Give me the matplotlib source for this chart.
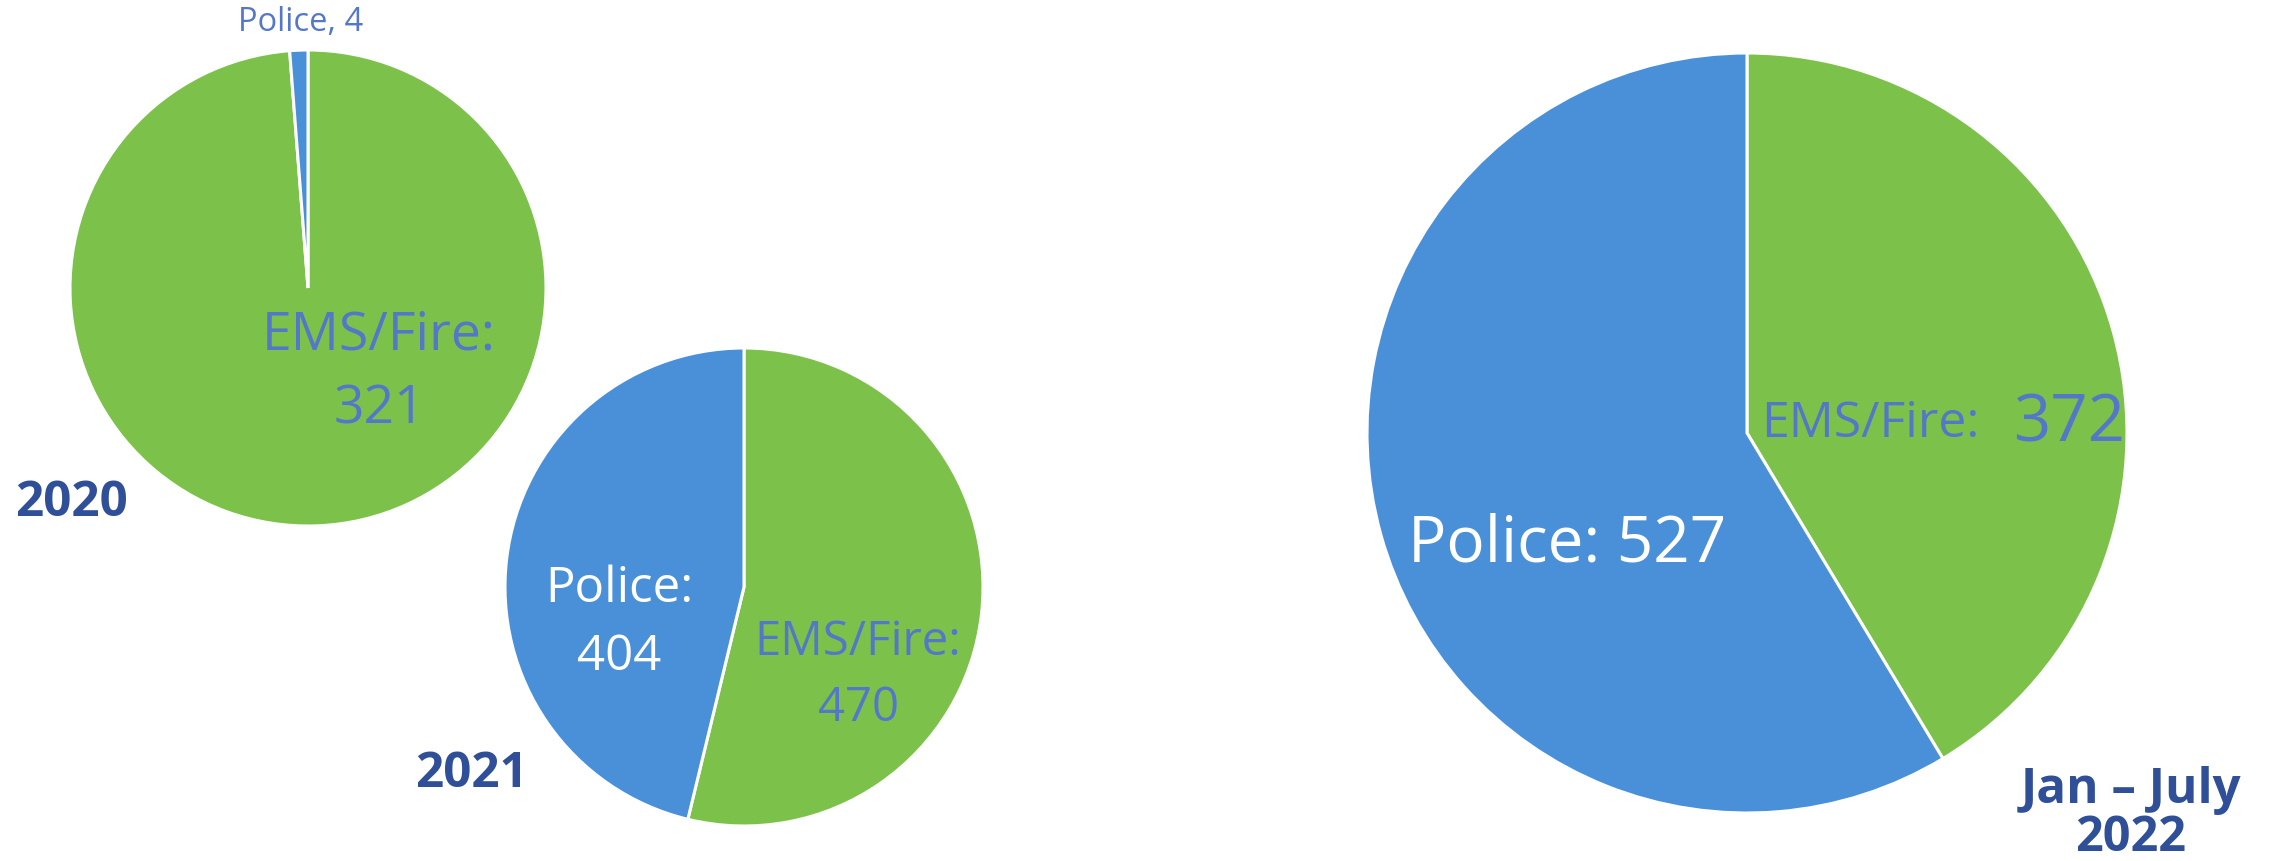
import matplotlib.pyplot as plt

# counts per service for each period
services = ["EMS/Fire", "Police"]
counts_2020 = [321, 4]
counts_2021 = [470, 404]
counts_2022 = [372, 527]
periods = ["2020", "2021", "Jan \u2013 July", "2022"]

GREEN = "#7cc24a"
BLUE = "#4a90d9"
LABEL_BLUE = "#5577c9"
TITLE_BLUE = "#2f4f98"

W, H = 2269, 862
fig = plt.figure(figsize=(W / 100, H / 100), dpi=100)
ax = fig.add_axes([0, 0, 1, 1])

plt.rcParams["font.family"] = ["Open Sans", "DejaVu Sans"]


def draw_pie(vals, cx, cy, r):
    ax.pie(vals, colors=[GREEN, BLUE], startangle=90, counterclock=False,
           center=(cx, H - cy), radius=r,
           wedgeprops=dict(edgecolor="white", linewidth=2.2))


draw_pie(counts_2020, 308, 289, 238)
draw_pie(counts_2021, 744, 588, 239)
draw_pie(counts_2022, 1747, 434, 380)

ax.set_xlim(0, W)
ax.set_ylim(0, H)
ax.set_aspect("equal")
ax.axis("off")


def txt(x, y, s, size, color, ls=1.5, **kw):
    ax.text(x, H - y, s, fontsize=size, color=color, ha="center", va="center",
            linespacing=ls, **kw)


# 2020
txt(301, 22, f"{services[1]}, {counts_2020[1]}", 23.5, LABEL_BLUE)
txt(379, 373, f"{services[0]}:\n{counts_2020[0]}", 38.5, LABEL_BLUE)
# 2021
txt(619, 623, f"{services[1]}:\n{counts_2021[1]}", 35.5, "white")
txt(858, 675, f"{services[0]}:\n{counts_2021[0]}", 34, LABEL_BLUE)
# 2022
txt(1567, 544, f"{services[1]}: {counts_2022[1]}", 46, "white")
ax.text(1761, H - 424, f"{services[0]}:", fontsize=36, color=LABEL_BLUE,
        ha="left", va="center")
ax.text(2125, H - 424, f"{counts_2022[0]}", fontsize=47, color=LABEL_BLUE,
        ha="right", va="center")

# period labels
ax.text(15, H - 503, periods[0], fontsize=35.5, color=TITLE_BLUE,
        fontweight="bold", ha="left", va="center")
txt(471, 775, periods[1], 35.5, TITLE_BLUE, fontweight="bold")
txt(2131, 791, periods[2], 35.5, TITLE_BLUE, fontweight="bold")
txt(2131, 839, periods[3], 35, TITLE_BLUE, fontweight="bold")

fig.savefig("out.png", dpi=100)
